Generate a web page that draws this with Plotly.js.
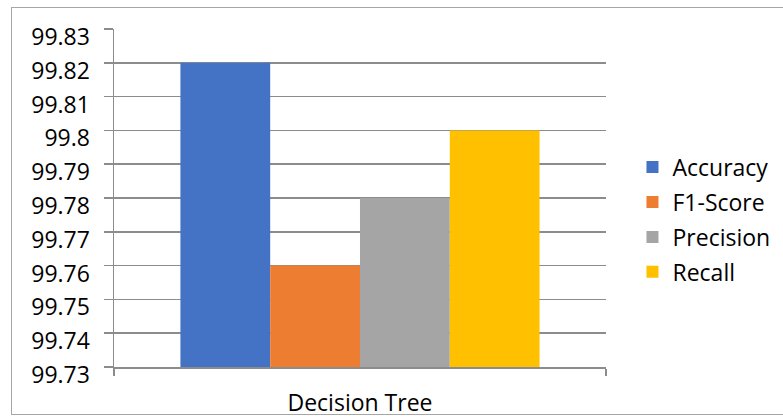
<!DOCTYPE html>
<html>
<head>
<meta charset="utf-8">
<script src="https://cdn.plot.ly/plotly-3.0.1.min.js"></script>
<style>
  html, body { margin: 0; padding: 0; background: #fff; }
  #frame { position: absolute; left: 11px; top: 7px; width: 780px; height: 408px; border: 1px solid #a6a6a6; box-sizing: border-box; }
  #chart { position: absolute; left: 0; top: 0; width: 783px; height: 417px; }
</style>
</head>
<body>
<div id="frame"></div>
<div id="chart"></div>
<script>
// Data
const categories = ['Decision Tree'];
const seriesNames = ['Accuracy', 'F1-Score', 'Precision', 'Recall'];
const seriesValues = [99.82, 99.76, 99.78, 99.80];
const seriesColors = ['#4472c4', '#ed7d31', '#a5a5a5', '#ffc000'];
const yTickVals = [99.73, 99.74, 99.75, 99.76, 99.77, 99.78, 99.79, 99.80, 99.81, 99.82, 99.83];
const yTickText = ['99.73', '99.74', '99.75', '99.76', '99.77', '99.78', '99.79', '99.8', '99.81', '99.82', '99.83'];

const FONT = '"Open Sans", "Noto Sans", sans-serif';
const FS = 23;

const traces = seriesNames.map((name, i) => ({
  type: 'bar',
  name: name,
  legendgroup: 'g' + i,
  x: categories,
  y: [seriesValues[i]],
  marker: { color: seriesColors[i], line: { width: 0 } },
  hoverinfo: 'skip'
}));

const layout = {
  width: 783,
  height: 417,
  margin: { l: 114, r: 0, t: 29, b: 50 },
  paper_bgcolor: 'rgba(0,0,0,0)',
  plot_bgcolor: 'rgba(0,0,0,0)',
  barmode: 'group',
  bargap: 0.27,
  bargroupgap: 0,
  showlegend: true,
  font: { family: FONT, size: FS, color: '#000' },
  xaxis: {
    type: 'category',
    domain: [0, 0.7354],
    tickson: 'boundaries',
    ticks: 'outside',
    ticklen: 7,
    tickwidth: 1.5,
    tickcolor: '#8c8c8c',
    showline: true,
    linecolor: '#8c8c8c',
    linewidth: 1.5,
    showgrid: false,
    zeroline: false,
    ticklabelstandoff: 15,
    tickfont: { family: FONT, size: FS, color: '#000' },
    fixedrange: true
  },
  yaxis: {
    range: [99.73, 99.83],
    tickmode: 'array',
    tickvals: yTickVals,
    ticktext: yTickText,
    ticks: 'outside',
    ticklen: 9,
    tickwidth: 1.5,
    tickcolor: '#8c8c8c',
    showline: true,
    linecolor: '#8c8c8c',
    linewidth: 1.5,
    showgrid: true,
    gridcolor: '#8c8c8c',
    gridwidth: 1.5,
    zeroline: false,
    ticklabelstandoff: 9,
    ticklabelshift: 8,
    tickfont: { family: FONT, size: FS, color: '#000' },
    fixedrange: true
  },
  legend: {
    x: 0.775,
    xanchor: 'left',
    y: 0.436,
    yanchor: 'middle',
    traceorder: 'grouped',
    bgcolor: 'rgba(0,0,0,0)',
    font: { family: FONT, size: FS, color: '#000' },
    tracegroupgap: 2,
    itemwidth: 30
  }
};

Plotly.newPlot('chart', traces, layout, { displayModeBar: false, staticPlot: true });
</script>
</body>
</html>
